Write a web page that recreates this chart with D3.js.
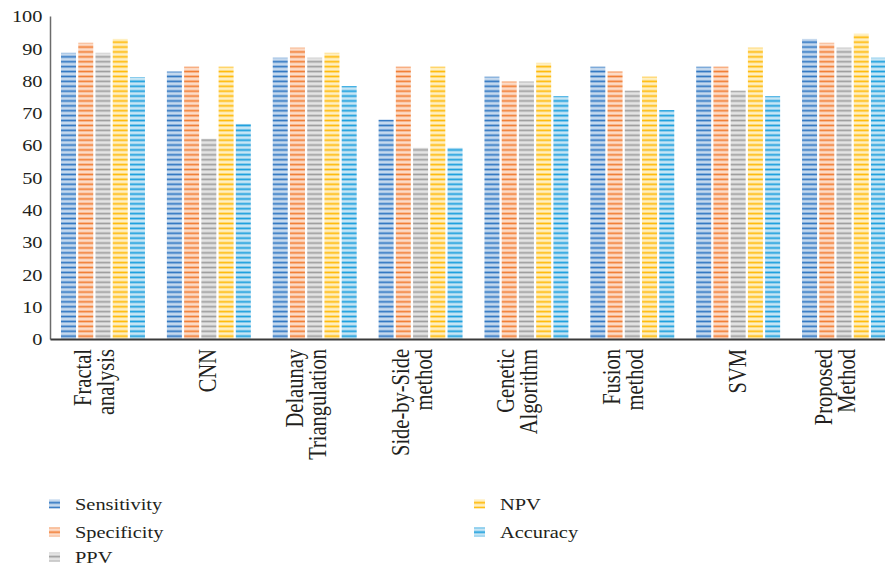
<!DOCTYPE html>
<html>
<head>
<meta charset="utf-8">
<script src="https://cdn.jsdelivr.net/npm/d3@7"></script>
<style>
  html, body { margin: 0; padding: 0; background: #ffffff; }
  svg { display: block; }
  text { font-family: "Liberation Serif", "Times New Roman", serif; fill: #231f20; }
</style>
</head>
<body>
<svg id="chart" width="885" height="571"></svg>
<script>
// Methods compared (label lines split on "\n")
const categories = [
  "Fractal\nanalysis", "CNN", "Delaunay\nTriangulation", "Side-by-Side\nmethod",
  "Genetic\nAlgorithm", "Fusion\nmethod", "SVM", "Proposed\nMethod"
];
const seriesNames = ["Sensitivity", "Specificity", "PPV", "NPV", "Accuracy"];

// Performance (%) per method
const sensitivity = [88.6, 82.8, 87.1, 67.9, 81.2, 84.3, 84.3, 92.9];
const specificity = [91.7, 84.3, 90.2, 84.3, 79.7, 82.8, 84.3, 91.7];
const ppv         = [88.6, 62.0, 87.1, 59.2, 79.7, 76.9, 76.9, 90.2];
const npv         = [92.9, 84.3, 88.6, 84.3, 85.5, 81.2, 90.2, 94.5];
const accuracy    = [81.1, 66.6, 78.3, 59.2, 75.2, 70.9, 75.2, 87.1];

const yTicks = [0, 10, 20, 30, 40, 50, 60, 70, 80, 90, 100];

// Striped fills: light ground, mid band, dark rule
const palettes = [
  { bg: "#c6d9ee", mid: "#6c9fd6", dark: "#2b72bf" },
  { bg: "#fcdcc8", mid: "#f8a472", dark: "#ef7a2c" },
  { bg: "#e4e4e4", mid: "#bcbcbc", dark: "#9a9a9a" },
  { bg: "#fff0c2", mid: "#ffcf55", dark: "#ffb800" },
  { bg: "#c7e6f5", mid: "#5cb9e6", dark: "#149ddd" }
];

const seriesValues = [sensitivity, specificity, ppv, npv, accuracy];
const SX = 1.2; // horizontal text stretch

const svg = d3.select("#chart");
const margin = { left: 50, top: 16, bottom: 339 };

const x0 = d3.scaleBand()
  .domain(categories)
  .range([50, 897])
  .paddingInner(0.207)
  .paddingOuter(0.104);

const x1 = d3.scaleBand()
  .domain(seriesNames)
  .range([0, x0.bandwidth()])
  .paddingInner(0.13);

const y = d3.scaleLinear().domain([0, 100]).range([margin.bottom, margin.top]);

// patterns
const defs = svg.append("defs");
palettes.forEach((p, i) => {
  const pat = defs.append("pattern")
    .attr("id", "stripe" + i)
    .attr("patternUnits", "userSpaceOnUse")
    .attr("x", 0).attr("y", 0.5)
    .attr("width", 8).attr("height", 4.9);
  pat.append("rect").attr("width", 8).attr("height", 4.9).attr("fill", p.bg);
  pat.append("rect").attr("y", 1.3).attr("width", 8).attr("height", 2.3).attr("fill", p.mid);
  pat.append("rect").attr("y", 2.0).attr("width", 8).attr("height", 0.9).attr("fill", p.dark);
});

// bars
const groups = svg.append("g").selectAll("g")
  .data(categories)
  .join("g")
  .attr("transform", d => `translate(${x0(d)},0)`);

groups.selectAll("rect")
  .data((d, ci) => seriesNames.map((s, si) => ({ s, si, v: seriesValues[si][ci] })))
  .join("rect")
  .attr("x", d => x1(d.s))
  .attr("width", x1.bandwidth())
  .attr("y", d => y(d.v))
  .attr("height", d => y(0) - y(d.v))
  .attr("fill", d => `url(#stripe${d.si})`);

// y axis
const yAxis = svg.append("g")
  .attr("transform", `translate(${margin.left},0)`)
  .call(d3.axisLeft(y).tickValues(yTicks).tickSize(0).tickSizeOuter(0).tickPadding(7.5));
yAxis.select(".domain").attr("stroke", "#6b6b6b").attr("stroke-width", 1.5);
yAxis.selectAll(".tick text")
  .attr("font-size", 17)
  .attr("font-family", null)
  .attr("dy", "0.34em")
  .attr("transform", `scale(${SX},1)`)
  .attr("x", -7.5 / SX);

// x axis
const xAxis = svg.append("g")
  .attr("transform", `translate(0,${y(0)})`)
  .call(d3.axisBottom(x0).tickSize(0).tickSizeOuter(0).tickFormat(""));
xAxis.select(".domain").attr("stroke", "#3a3a3a").attr("stroke-width", 2);

// rotated multi-line category labels
xAxis.selectAll(".tick").each(function (d) {
  const lines = d.split("\n");
  const n = lines.length;
  const g = d3.select(this);
  lines.forEach((line, i) => {
    const off = n === 1 ? 7.5 : (i - (n - 1) / 2) * 23 - 0.5;
    g.append("text")
      .attr("transform", `translate(${off},10) scale(${SX},1) rotate(-90)`)
      .attr("text-anchor", "end")
      .attr("font-size", 20.5)
      .text(line);
  });
});

// legend
const legendItems = [
  { i: 0, x: 49, y: 504 }, { i: 1, x: 49, y: 532 }, { i: 2, x: 49, y: 557 },
  { i: 3, x: 474, y: 504 }, { i: 4, x: 474, y: 532 }
];
const leg = svg.append("g");
legendItems.forEach(it => {
  leg.append("rect")
    .attr("x", it.x).attr("y", it.y - 4.5)
    .attr("width", 11).attr("height", 9)
    .attr("fill", `url(#stripe${it.i})`);
  leg.append("text")
    .attr("transform", `translate(${it.x + 26},${it.y + 5.5}) scale(${SX},1)`)
    .attr("font-size", 17)
    .text(seriesNames[it.i]);
});
</script>
</body>
</html>
